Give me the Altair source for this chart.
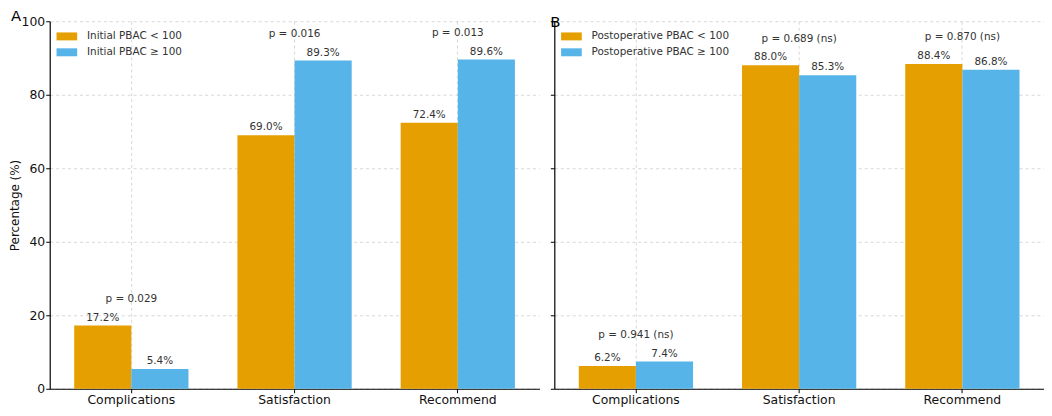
import altair as alt
import pandas as pd

categories = ["Complications", "Satisfaction", "Recommend"]

a_groups = ["Initial PBAC < 100", "Initial PBAC ≥ 100"]
a_low = [17.2, 69.0, 72.4]
a_high = [5.4, 89.3, 89.6]
a_p = ["p = 0.029", "p = 0.016", "p = 0.013"]

b_groups = ["Postoperative PBAC < 100", "Postoperative PBAC ≥ 100"]
b_low = [6.2, 88.0, 88.4]
b_high = [7.4, 85.3, 86.8]
b_p = ["p = 0.941 (ns)", "p = 0.689 (ns)", "p = 0.870 (ns)"]

colors = ["#E69F00", "#56B4E9"]
FONT = "DejaVu Sans"


def panel(low, high, groups, pvals, letter, first):
    bars_df = pd.DataFrame({
        "category": categories * 2,
        "group": [groups[0]] * 3 + [groups[1]] * 3,
        "value": low + high,
    })
    bars_df["label"] = bars_df["value"].map(lambda v: f"{v:.1f}%")
    p_df = pd.DataFrame({
        "category": categories,
        "p": pvals,
        "top": [max(l, h) for l, h in zip(low, high)],
    })

    x = alt.X("category:N", sort=categories, title=None,
              scale=alt.Scale(paddingInner=0.3, paddingOuter=0.15),
              axis=alt.Axis(labelAngle=0, grid=True, bandPosition=0.5,
                            labelFontSize=12.5, labelPadding=1))
    if first:
        yaxis = alt.Axis(values=[0, 20, 40, 60, 80, 100], title="Percentage (%)",
                         labelFontSize=12.5, labelPadding=1, titlePadding=0,
                         titleFontSize=12, titleFontWeight="normal")
    else:
        yaxis = alt.Axis(values=[0, 20, 40, 60, 80, 100], title=None, labels=False)
    y = alt.Y("value:Q", scale=alt.Scale(domain=[0, 100], nice=False), axis=yaxis)
    xoff = alt.XOffset("group:N", sort=groups,
                       scale=alt.Scale(paddingInner=0, paddingOuter=0))

    bars = alt.Chart(bars_df).mark_bar().encode(
        x=x, xOffset=xoff, y=y,
        color=alt.Color("group:N", sort=groups,
                        scale=alt.Scale(domain=groups, range=colors),
                        legend=alt.Legend(title=None, orient="none",
                                          legendX=12, legendY=10,
                                          symbolType="M-2.6,-1H2.6V1H-2.6Z",
                                          symbolSize=64, symbolStrokeWidth=0,
                                          labelFontSize=10.5, labelColor="#333",
                                          labelOffset=15, rowPadding=5)),
    )
    values = alt.Chart(bars_df).mark_text(
        baseline="bottom", dy=-3, fontSize=10.5, color="#333", font=FONT
    ).encode(x=x, xOffset=xoff, y="value:Q", text="label:N")
    pv = alt.Chart(p_df).mark_text(
        baseline="bottom", dy=-22, fontSize=10.5, color="#333", font=FONT
    ).encode(x=alt.X("category:N", sort=categories), y="top:Q", text="p:N")

    return alt.layer(bars, values, pv).properties(
        width=493, height=370,
        title=alt.Title(letter, anchor="start", frame="group", fontSize=15,
                        fontWeight="normal", offset=-9,
                        dx=-39 if first else -4),
    )


chart = alt.hconcat(
    panel(a_low, a_high, a_groups, a_p, "A", True),
    panel(b_low, b_high, b_groups, b_p, "B", False),
    spacing=10,
).resolve_scale(color="independent", xOffset="independent").properties(
    padding=0
).configure(font=FONT).configure_view(
    stroke=None
).configure_axis(
    domainColor="black", domainWidth=1.2, tickColor="black", tickSize=4,
    labelColor="#111", titleColor="#111",
    gridColor="#cccccc", gridDash=[3, 3], gridWidth=0.8,
)

chart.save("out.html", embed_options={"renderer": "svg", "actions": False})
